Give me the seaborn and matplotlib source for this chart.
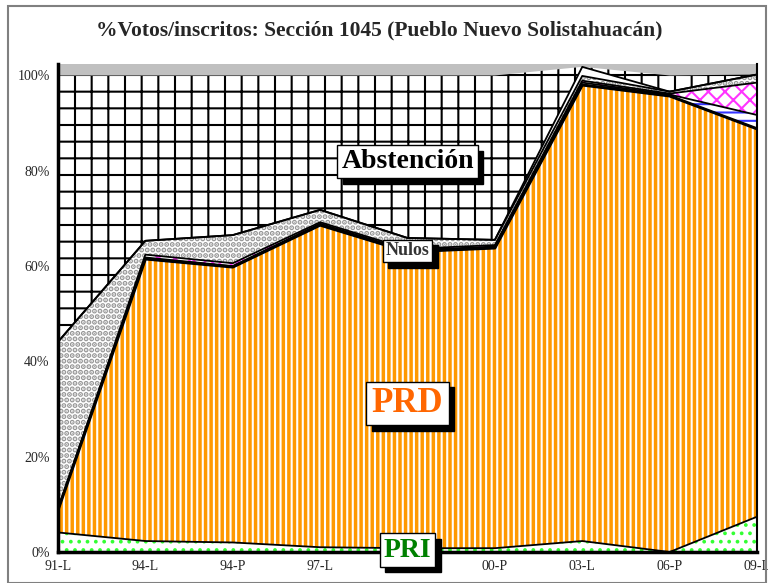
import numpy as np
import pandas as pd
import matplotlib
matplotlib.use('Agg')
import matplotlib.pyplot as plt
from matplotlib.patches import Rectangle
import seaborn as sns

# datos (% de inscritos)
elecciones = ['91-L', '94-L', '94-P', '97-L', '00-L', '00-P', '03-L', '06-P', '09-L']
pri = [4.1, 2.3, 2.0, 1.0, 0.8, 0.8, 2.3, 0.0, 7.4]
prd = [4.7, 59.2, 57.8, 67.6, 62.2, 63.0, 95.7, 95.7, 81.4]
pan = [0.2, 0.3, 0.2, 0.3, 0.3, 0.3, 0.5, 0.3, 2.9]
pt = [0.0, 0.6, 0.6, 0.3, 0.3, 0.3, 0.4, 0.2, 6.8]
nulos = [35.1, 2.9, 5.9, 2.6, 2.3, 1.1, 1.0, 0.4, 1.7]
otros = [0.0, 0.0, 0.0, 0.0, 0.0, 0.0, 1.9, 0.0, 0.0]

sns.set_style('white')
plt.rcParams['font.family'] = ['Liberation Serif', 'DejaVu Serif']
plt.rcParams['hatch.linewidth'] = 1.5

x = np.arange(len(elecciones))
# nombre, valores, relleno, color de trama, trama, grosor de trama
capas = [
    ('PRI', pri, '#ffffff', '#33ff33', '..', 1.5),
    ('PRD', prd, '#ff9900', '#ffffff', '|||', 1.5),
    ('PAN', pan, '#ffffff', '#3333ff', '--', 1.5),
    ('PT', pt, '#ffffff', '#ff33ff', 'xx', 1.5),
    ('Nulos', nulos, '#ffffff', '#969696', '...', 2.6),
    ('Otros', otros, '#ffffff', '#ffffff', None, 1.5),
]

fig = plt.figure(figsize=(7.68, 5.83), dpi=100)
ax = fig.add_axes([58 / 768, 31 / 583, 699 / 768, 488 / 583])
ax.set_facecolor('#c0c0c0')

base = np.zeros(len(x))
bordes = []
for nombre, vals, fc, hc, hatch, hlw in capas:
    top = base + np.array(vals)
    coll = ax.fill_between(x, base, top, facecolor=fc, edgecolor=hc, hatch=hatch, linewidth=0)
    if hasattr(coll, 'set_hatch_linewidth'):
        coll.set_hatch_linewidth(hlw)
    bordes.append(pd.DataFrame({'pos': x, 'valor': top, 'serie': nombre}))
    base = top

# abstencion hasta 100%
ax.fill_between(x, base, np.maximum(base, 100), facecolor='white', edgecolor='black',
                hatch='+', linewidth=0)

df_bordes = pd.concat(bordes)
sns.lineplot(data=df_bordes, x='pos', y='valor', units='serie', estimator=None,
             color='black', linewidth=1.3, ax=ax, legend=False)
sns.lineplot(data=df_bordes[df_bordes.serie == 'PRD'], x='pos', y='valor',
             color='black', linewidth=2.2, ax=ax, legend=False)

ax.set_xlim(0, len(x) - 1)
ax.set_ylim(0, 102.4)
ax.set_xticks(x)
ax.set_xticklabels(elecciones)
ax.set_yticks([0, 20, 40, 60, 80, 100])
ax.set_yticklabels(['0%', '20%', '40%', '60%', '80%', '100%'])
ax.set_xlabel('')
ax.set_ylabel('')
ax.tick_params(axis='x', direction='inout', length=7, width=1, labelsize=10, pad=2)
ax.tick_params(axis='y', direction='out', length=4, width=1, labelsize=10, pad=2)
ax.spines['top'].set_visible(False)
ax.spines['left'].set_linewidth(2.5)
ax.spines['bottom'].set_linewidth(2.5)
ax.spines['right'].set_linewidth(1.5)
for s in ['left', 'bottom', 'right']:
    ax.spines[s].set_color('black')


def etiqueta(texto, xp, yp, size, color):
    # sombra negra + caja blanca
    ax.annotate(texto, (xp, yp), xytext=(4, -4), textcoords='offset points',
                ha='center', va='center', fontsize=size, fontweight='bold', color='black',
                bbox=dict(boxstyle='square,pad=0.15', fc='black', ec='black'),
                annotation_clip=False, zorder=5)
    ax.annotate(texto, (xp, yp), ha='center', va='center', fontsize=size,
                fontweight='bold', color=color,
                bbox=dict(boxstyle='square,pad=0.15', fc='white', ec='black', lw=1),
                annotation_clip=False, zorder=6)


etiqueta('Abstención', 4, 81.9, 20, 'black')
etiqueta('Nulos', 4, 63.2, 13, '#333333')
etiqueta('PRD', 4, 31.2, 25, '#ff6600')
etiqueta('PRI', 4, 0.4, 20, '#008000')

fig.text(0.494, 0.947, '%Votos/inscritos: Sección 1045 (Pueblo Nuevo Solistahuacán)',
         ha='center', va='center', fontsize=15.5, fontweight='bold')
fig.add_artist(Rectangle((8 / 768, 0), 758 / 768, 577 / 583, transform=fig.transFigure,
                         fill=False, edgecolor='#808080', linewidth=1.5))

fig.savefig('out.png', dpi=100)
